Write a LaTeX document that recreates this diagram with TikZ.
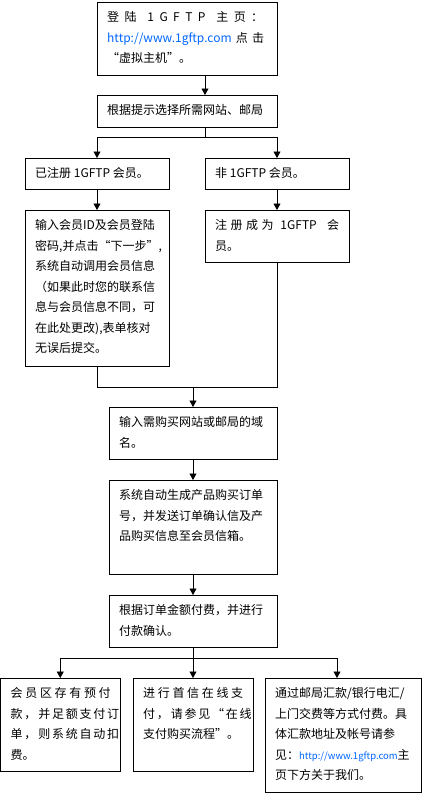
\documentclass[tikz,border=0pt]{standalone}
\usepackage{fontspec}
\setmainfont{Noto Sans CJK SC}
\usetikzlibrary{arrows.meta,calc}
\definecolor{urlblue}{RGB}{0,102,255}
\newcommand\jl[2]{\makebox[#1pt][s]{#2}}
\newcommand\myurl[1]{\textcolor{urlblue}{#1}}
\newcommand\flowbox[6]{%
  \node[box,minimum width={(#4-#2)*1pt},minimum height={(#5-#3)*1pt}] (#1) at (#2,#3) {};
  \node[txt] (#1t) at ($(#1.north west)+(10,9.5)$) {#6};}
\begin{document}
\begin{tikzpicture}[x=1pt,y=-1pt,
  box/.style={draw,line width=0.8pt,anchor=north west,inner sep=0pt,outer sep=0pt},
  txt/.style={anchor=north west,inner sep=0pt,align=left,font=\fontsize{12}{20.5}\selectfont},
  arr/.style={line width=0.8pt,-{Triangle[width=7pt,length=6.5pt]}},
  ln/.style={line width=0.8pt}]
\useasboundingbox (0,0) rectangle (422,795);
\flowbox{b1}{97}{2}{277}{75}{\jl{156}{登 陆 \ 1 G F T P \ 主 页 ：}\\\jl{157}{\myurl{http://www.1gftp.com} 点 击}\\“虚拟主机”。}
\flowbox{b2}{97}{95}{277}{127}{根据提示选择所需网站、邮局}
\flowbox{b3a}{25}{158}{169}{189}{已注册 1GFTP 会员。}
\flowbox{b3b}{205}{158}{349}{189}{非 1GFTP 会员。}
\flowbox{b4a}{25}{210}{169}{366}{输入会员ID及会员登陆\\密码,并点击“下一步”,\\系统自动调用会员信息\\（如果此时您的联系信\\息与会员信息不同，可\\在此处更改),表单核对\\无误后提交。}
\flowbox{b4b}{205}{210}{349}{262}{\jl{124}{注 册 成 为 \ 1GFTP \ \ 会}\\员。}
\flowbox{b5}{109}{407}{277}{459}{输入需购买网站或邮局的域\\名。}
\flowbox{b6}{109}{480}{277}{574}{系统自动生成产品购买订单\\号，并发送订单确认信及产\\品购买信息至会员信箱。}
\flowbox{b7}{109}{595}{277}{647}{根据订单金额付费，并进行\\付款确认。}
\flowbox{b8a}{0.5}{678}{120}{771}{\jl{100}{会 员 区 存 有 预 付}\\\jl{100}{款 ， 并 足 额 支 付 订}\\\jl{100}{单 ， 则 系 统 自 动 扣}\\费。}
\flowbox{b8b}{133}{678}{253}{771}{\jl{100}{进 行 首 信 在 线 支}\\\jl{100}{付 ， 请 参 见 “ 在 线}\\支付购买流程”。}
\flowbox{b8c}{265}{678}{421.3}{792}{通过邮局汇款/银行电汇/\\上门交费等方式付费。具\\体汇款地址及帐号请参\\见：{\fontsize{9.5}{20.5}\selectfont\myurl{http://www.1gftp.com}}主\\页下方关于我们。}
% connectors
\draw[arr] (b1.south -| b3b.west) -- (b2.north -| b3b.west);
\coordinate (j1) at ($(b2.south -| b3b.west)+(0,10)$);
\draw[ln] (b2.south -| b3b.west) -- (j1);
\draw[arr] (j1) -| (b3a.north);
\draw[arr] (j1) -| (b3b.north);
\draw[arr] (b3a) -- (b4a);
\draw[arr] (b3b) -- (b4b);
\coordinate (j2) at ($(b4a.south)+(0,21)$);
\draw[ln] (b4a.south) -- (j2) -| (b4b.south);
\draw[arr] (j2 -| b5.north) -- (b5.north);
\draw[arr] (b5) -- (b6);
\draw[arr] (b6) -- (b7);
\coordinate (j3) at ($(b7.south)+(0,11)$);
\coordinate (b8cin) at ($(b8c.north west)+(72,0)$);
\draw[ln] (b7.south) -- (j3);
\draw[arr] (j3) -| (b8a.north);
\draw[arr] (j3) -- (b8b.north);
\draw[arr] (j3) -| (b8cin);
\end{tikzpicture}
\end{document}
